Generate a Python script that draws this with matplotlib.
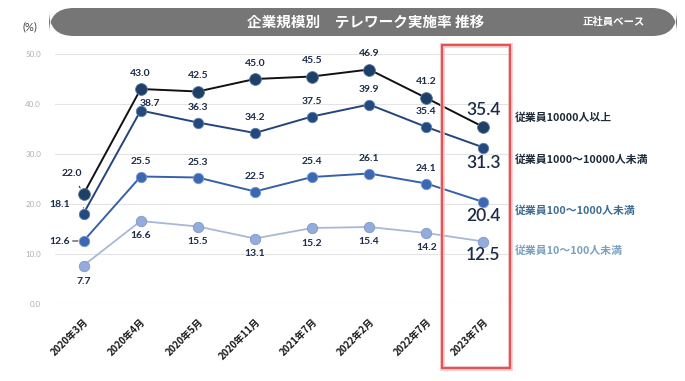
import matplotlib
matplotlib.use("Agg")
import matplotlib.pyplot as plt
from matplotlib.patches import FancyBboxPatch, Rectangle

categories = ["2020年3月", "2020年4月", "2020年5月", "2020年11月", "2021年7月", "2022年2月", "2022年7月", "2023年7月"]
s_10000 = [22.0, 43.0, 42.5, 45.0, 45.5, 46.9, 41.2, 35.4]
s_1000 = [18.1, 38.7, 36.3, 34.2, 37.5, 39.9, 35.4, 31.3]
s_100 = [12.6, 25.5, 25.3, 22.5, 25.4, 26.1, 24.1, 20.4]
s_10 = [7.7, 16.6, 15.5, 13.1, 15.2, 15.4, 14.2, 12.5]
series_names = ["従業員10000人以上", "従業員1000～10000人未満", "従業員100～1000人未満", "従業員10～100人未満"]
yticks = [0, 10, 20, 30, 40, 50]
title = "企業規模別　テレワーク実施率 推移"
subtitle = "正社員ベース"

CJK = ["Noto Sans CJK JP", "DejaVu Sans"]
NUM = ["Lato", "DejaVu Sans"]
LBL = "#1c2b48"

W, H = 685, 381
fig = plt.figure(figsize=(W / 100, H / 100), dpi=100)
fig.patch.set_facecolor("white")

def fx(px):
    return px / W

def fy(py):
    return 1 - py / H

ax = fig.add_axes([fx(55), fy(304), fx(512) - fx(55), fy(54) - fy(304)])
ax.set_xlim(-0.5, len(categories) - 0.5)
ax.set_ylim(0, 50)
for s in ax.spines.values():
    s.set_visible(False)
ax.set_yticks(yticks)
ax.set_yticklabels([f"{v:.1f}" for v in yticks], fontsize=5.8, color="#b0b0b0", family=NUM)
ax.tick_params(axis="y", length=0, pad=10)
ax.yaxis.grid(True, color="#e3e3e3", linewidth=0.8)
ax.set_axisbelow(True)
ax.set_xticks(range(len(categories)))
ax.set_xticklabels(categories, rotation=45, ha="right", va="top", rotation_mode="anchor",
                   fontsize=7, fontweight="bold", color="#1a1a1a", family=CJK)
ax.tick_params(axis="x", length=0, pad=9)

x = list(range(len(categories)))
styles = [
    (s_10000, "#111111", "#1f3f66", "#5a7aa0", 8.5, 1.4),
    (s_1000, "#23457a", "#24497f", "#5c7fb0", 7.5, 1.4),
    (s_100, "#3561aa", "#3b67b3", "#7a9ad0", 7.5, 1.4),
    (s_10, "#a9b8d6", "#94acdc", "#7f98c8", 7.5, 1.3),
]
for vals, lc, mc, me, ms, lw in styles:
    ax.plot(x, vals, color=lc, linewidth=lw, zorder=2, clip_on=False)
    ax.plot(x, vals, linestyle="none", marker="o", markersize=ms, markerfacecolor=mc,
            markeredgecolor=me, markeredgewidth=0.6, zorder=3, clip_on=False)

def lab(i, v, dx, dy, size=7.5, weight="bold"):
    ax.annotate(f"{v:.1f}", (i, v), xytext=(dx, dy), textcoords="offset pixels",
                ha="center", va="center", fontsize=size, fontweight=weight,
                color=LBL, family=NUM, zorder=5, annotation_clip=False)

n = len(categories)
for i in range(1, n - 1):
    lab(i, s_10000[i], 0, 16)
for i in range(1, n - 1):
    lab(i, s_1000[i], 9 if i == 1 else 0, 7 if i == 1 else 15)
for i in range(1, n - 1):
    lab(i, s_100[i], 0, 15)
for i in range(1, n - 1):
    lab(i, s_10[i], 0, -15)
# last column (large)
big = dict(size=12.5, weight="semibold")
lab(n - 1, s_10000[-1], 0, 17, **big)
lab(n - 1, s_1000[-1], 0, -15, **big)
lab(n - 1, s_100[-1], 0, -14, **big)
lab(n - 1, s_10[-1], 0, -14, **big)
# first column with leaders
ax.annotate(f"{s_10000[0]:.1f}", (0, s_10000[0]), xytext=(-12, 21), textcoords="offset pixels",
            ha="center", va="center", fontsize=7.5, fontweight="bold", color=LBL, family=NUM,
            arrowprops=dict(arrowstyle="-", color="#333333", lw=0.8, shrinkA=5, shrinkB=5), zorder=5)
ax.annotate(f"{s_1000[0]:.1f}", (0, s_1000[0]), xytext=(-24, 9), textcoords="offset pixels",
            ha="center", va="center", fontsize=7.5, fontweight="bold", color=LBL, family=NUM,
            arrowprops=dict(arrowstyle="-", color="#333333", lw=0.8, shrinkA=8, shrinkB=4,
                            connectionstyle="angle3,angleA=0,angleB=50"), zorder=5)
ax.annotate(f"{s_100[0]:.1f}", (0, s_100[0]), xytext=(-24, 0), textcoords="offset pixels",
            ha="center", va="center", fontsize=7.5, fontweight="bold", color=LBL, family=NUM,
            arrowprops=dict(arrowstyle="-", color="#333333", lw=0.8, shrinkA=10, shrinkB=4), zorder=5)
lab(0, s_10[0], 0, -16)

# legend labels at right
leg_colors = ["#1e2a38", "#1e2a38", "#3f6d96", "#7aa0c0"]
leg_y = [117, 159, 210, 250]
for name, c, py in zip(series_names, leg_colors, leg_y):
    fig.text(fx(515), fy(py), name, ha="left", va="center", fontsize=7.8, fontweight="bold",
             color=c, family=CJK)

# red highlight box
for lw, col, al in [(3.5, "#f6c4c4", 0.8), (1.6, "#e05555", 1.0)]:
    fig.patches.append(Rectangle((fx(442), fy(368)), fx(510) - fx(442), fy(45) - fy(368),
                                 transform=fig.transFigure, fill=False, edgecolor=col,
                                 linewidth=lw, alpha=al, zorder=6))

# title bar
bar = FancyBboxPatch((fx(49), fy(36)), fx(677) - fx(49), fy(8) - fy(36),
                     boxstyle="round,pad=0,rounding_size=0.036", transform=fig.transFigure,
                     facecolor="#767676", edgecolor="none", mutation_aspect=W / H)
fig.patches.append(bar)
fig.text(fx(366), fy(22), title, ha="center", va="center", fontsize=10.5, fontweight="bold",
         color="white", family=CJK)
fig.text(fx(614), fy(22), subtitle, ha="center", va="center", fontsize=7.5, fontweight="bold",
         color="white", family=CJK)
fig.text(fx(30), fy(27), "(%)", ha="center", va="center", fontsize=8, color="#444444", family=NUM)

fig.savefig("out.png", dpi=100, facecolor="white")
